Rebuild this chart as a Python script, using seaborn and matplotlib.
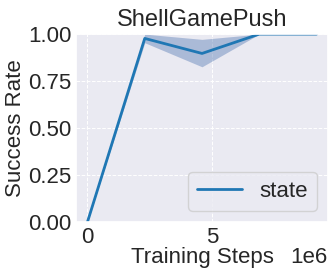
import matplotlib
matplotlib.use("Agg")
import matplotlib.pyplot as plt
import pandas as pd
import seaborn as sns

# data
steps = [0.0, 2.3e6, 4.6e6, 6.9e6, 9.2e6]
mean_success = [0.0, 0.977, 0.897, 1.0, 1.0]
lower_success = [0.0, 0.954, 0.826, 1.0, 1.0]
upper_success = [0.0, 1.0, 0.972, 1.0, 1.0]
series_name = "state"
title = "ShellGamePush"

sns.set_theme(style="darkgrid",
              rc={"grid.linestyle": "--", "grid.linewidth": 0.7})
plt.rcParams["font.family"] = ["Liberation Sans", "DejaVu Sans"]

df = pd.DataFrame({"Training Steps": steps, "Success Rate": mean_success})

fig, ax = plt.subplots(figsize=(3.32, 2.75), dpi=100)
sns.lineplot(data=df, x="Training Steps", y="Success Rate", ax=ax,
             color="#1f77b4", linewidth=2, label=series_name)
ax.fill_between(steps, lower_success, upper_success, color="#4c72b0",
                alpha=0.4, linewidth=0)

ax.set_ylim(0, 1.0)
ax.set_yticks([0.0, 0.25, 0.5, 0.75, 1.0])
ax.set_title(title, fontsize=17, pad=6)
ax.tick_params(labelsize=16, length=0, pad=3.5)
ax.legend(loc="lower right", fontsize=16)

ax.set_xlabel("Training Steps", fontsize=16, va="baseline")
ax.xaxis.set_label_coords(0.5, -0.218)
ax.set_ylabel("Success Rate", fontsize=16, va="center")
ax.yaxis.set_label_coords(-0.242, 0.5)

fig.subplots_adjust(left=0.229, right=0.988, top=0.876, bottom=0.193)

# put the axis offset ("1e6") on the same line as the x label
fig.canvas.draw()
offset = ax.xaxis.get_offset_text()
offset_str = offset.get_text()
offset.set_visible(False)
ax.text(0.996, -0.218, offset_str, transform=ax.transAxes, fontsize=16,
        ha="right", va="baseline", color=offset.get_color())

fig.savefig("out.png", dpi=100)
